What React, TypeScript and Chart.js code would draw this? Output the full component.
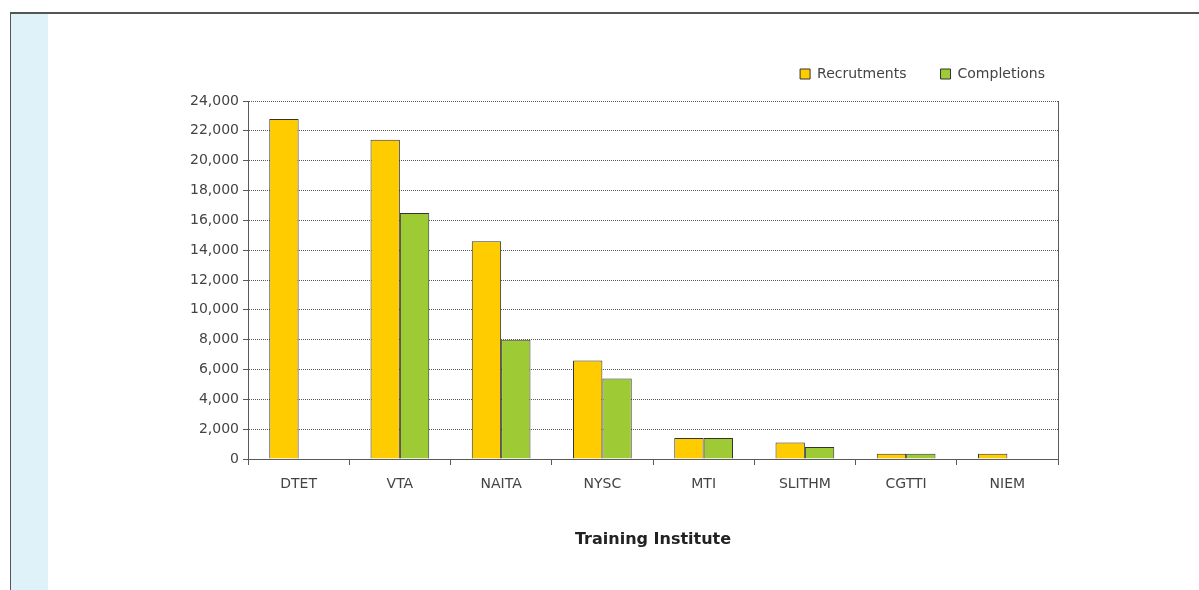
import React, { useEffect, useRef } from "react";
import { Chart, registerables } from "chart.js";

Chart.register(...registerables);

const categories = ["DTET", "VTA", "NAITA", "NYSC", "MTI", "SLITHM", "CGTTI", "NIEM"];
const recruitments = [22800, 21400, 14600, 6600, 1400, 1100, 350, 350];
const completions = [0, 16500, 8000, 5400, 1400, 800, 350, 0];
const seriesNames = ["Recrutments", "Completions"];
const yMax = 24000;
const yStep = 2000;
const xTitle = "Training Institute";

function greenPattern(): CanvasPattern | string {
  const c = document.createElement("canvas");
  c.width = 4;
  c.height = 4;
  const g = c.getContext("2d");
  if (!g) return "#9ccc33";
  g.fillStyle = "#9ccc33";
  g.fillRect(0, 0, 4, 4);
  g.fillStyle = "#c9b84a";
  g.fillRect(1, 1, 1, 1);
  const p = g.createPattern(c, "repeat");
  return p || "#9ccc33";
}

export default function App() {
  const ref = useRef<HTMLCanvasElement | null>(null);

  useEffect(() => {
    document.body.style.margin = "0";
    if (!ref.current) return;
    const gridColor = "#5a5a5a";
    const chart = new Chart(ref.current, {
      type: "bar",
      data: {
        labels: categories,
        datasets: [
          {
            label: seriesNames[0],
            data: recruitments,
            backgroundColor: "#ffcc00",
            borderColor: "#333",
            borderWidth: 1,
            xAxisID: "x",
            yAxisID: "y",
          },
          {
            label: seriesNames[1],
            data: completions,
            backgroundColor: greenPattern() as any,
            borderColor: "#333",
            borderWidth: 1,
            xAxisID: "x",
            yAxisID: "y",
          },
        ],
      },
      options: {
        animation: false,
        responsive: true,
        maintainAspectRatio: false,
        layout: { padding: { left: 178, right: 120, top: 33, bottom: 31 } },
        datasets: { bar: { categoryPercentage: 0.58, barPercentage: 1 } },
        plugins: {
          legend: {
            position: "top",
            align: "end",
            labels: {
              boxWidth: 10,
              boxHeight: 10,
              padding: 34,
              color: "#444",
              font: { family: "DejaVu Sans", size: 14 },
            },
          },
          tooltip: { enabled: false },
        },
        scales: {
          x: {
            type: "category",
            position: "bottom",
            offset: true,
            grid: {
              display: true,
              drawOnChartArea: false,
              offset: true,
              tickLength: 6,
              color: gridColor,
            },
            border: { display: true, color: gridColor, dash: [1, 1] },
            ticks: {
              color: "#444",
              padding: 11,
              font: { family: "DejaVu Sans", size: 14 },
              maxRotation: 0,
            },
            title: {
              display: true,
              text: xTitle,
              color: "#222",
              font: { family: "DejaVu Sans", size: 16, weight: "bold" },
              padding: { top: 0, bottom: 10 },
            },
            afterFit: (s: any) => {
              s.height = 100;
            },
          },
          xTop: {
            type: "category",
            position: "top",
            display: true,
            grid: { display: false },
            border: { display: false },
            ticks: { display: false },
            afterFit: (s: any) => {
              s.height = 10;
            },
          },
          y: {
            type: "linear",
            position: "left",
            min: 0,
            max: yMax,
            ticks: {
              stepSize: yStep,
              color: "#444",
              padding: 4,
              font: { family: "DejaVu Sans", size: 14 },
              callback: (v: any) => Number(v).toLocaleString("en-US"),
            },
            grid: {
              color: gridColor,
              tickLength: 5,
              lineWidth: 1,
            },
            border: { display: true, color: gridColor, dash: [1, 1] },
            afterFit: (s: any) => {
              s.width = 70;
            },
          },
          yR: {
            type: "linear",
            position: "right",
            display: true,
            grid: { display: false },
            ticks: { display: false },
            border: { display: true, color: gridColor, dash: [1, 1] },
            afterFit: (s: any) => {
              s.width = 21;
            },
          },
        },
      } as any,
    });
    return () => chart.destroy();
  }, []);

  return (
    <div style={{ position: "relative", width: 1199, height: 590, overflow: "hidden", background: "#fff" }}>
      <div style={{ position: "absolute", left: 10, top: 12, width: 1189, height: 2, background: "#555" }} />
      <div style={{ position: "absolute", left: 10, top: 12, width: 1, height: 578, background: "#555" }} />
      <div style={{ position: "absolute", left: 11, top: 14, width: 37, height: 576, background: "#dff2fa" }} />
      <canvas ref={ref} style={{ position: "absolute", left: 0, top: 0, width: 1199, height: 590 }} />
    </div>
  );
}
